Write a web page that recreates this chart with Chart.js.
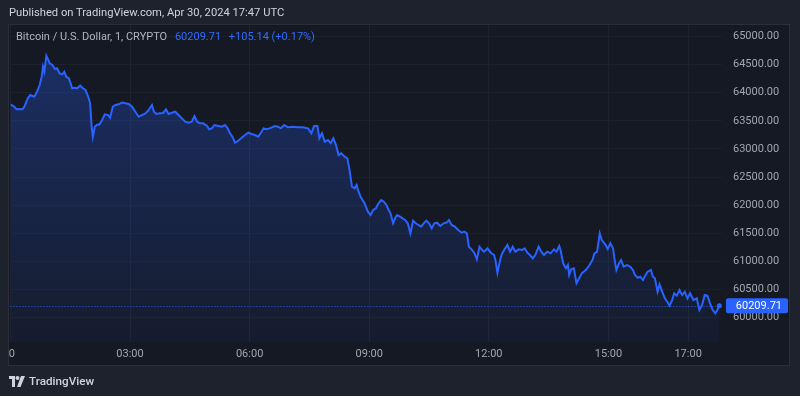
<!DOCTYPE html>
<html>
<head>
    <title>Bitcoin / U.S. Dollar</title>
    <style type="text/css">
        body { margin: 0; background: #1e222d; font-family: Roboto, "Noto Sans", sans-serif; }
        #wrap { position: relative; width: 800px; height: 396px; }
        .pub { position: absolute; left: 9px; top: 6px; color: #d1d4dc; font-size: 11.2px; white-space: nowrap; }
        .legend { position: absolute; left: 16px; top: 30px; color: #b2b5be; font-size: 11px; white-space: nowrap; }
        .legend .val { color: #2f6bff; margin-left: 5px; }
        .logo { position: absolute; left: 9px; top: 374px; color: #d1d4dc; font-size: 11.7px; font-weight: 500; white-space: nowrap; }
        .logo svg { vertical-align: -2px; margin-right: 4px; }
    </style>
    <script src="https://cdn.jsdelivr.net/npm/chart.js@4.4.1/dist/chart.umd.min.js"></script>
</head>
<body>
<div id="wrap">
    <canvas id="Chart" width="800" height="396"></canvas>
    <div class="pub">Published on TradingView.com, Apr 30, 2024 17:47 UTC</div>
    <div class="legend" id="legend"></div>
    <div class="logo">
        <svg width="16" height="11" viewBox="0 0 16 11"><path d="M0 0h6v11H3V3H0z" fill="#d1d4dc"/><circle cx="8.5" cy="2" r="2" fill="#d1d4dc"/><path d="M12 0h4l-4.5 11H8z" fill="#d1d4dc"/></svg>TradingView
    </div>
</div>
<script>
    // minutes since 00:00 UTC, Apr 30 2024
    var minutes = [
        0, 6, 9, 13, 18, 21, 26, 30, 36, 40,
        44, 47, 49, 51, 54, 57, 59, 63, 67, 70,
        74, 78, 81, 84, 88, 93, 97, 100, 105, 109,
        113, 117, 120, 122, 124, 127, 130, 134, 138, 142,
        147, 150, 154, 158, 163, 168, 173, 178, 183, 188,
        193, 198, 203, 208, 213, 216, 220, 225, 230, 234,
        238, 243, 248, 253, 258, 263, 268, 273, 277, 281,
        285, 290, 296, 299, 303, 307, 313, 318, 323, 327,
        330, 334, 338, 343, 348, 353, 358, 363, 368, 373,
        377, 381, 385, 390, 398, 403, 407, 412, 418, 425,
        433, 440, 448, 453, 457, 462, 465, 469, 473, 478,
        482, 486, 490, 494, 498, 503, 507, 510, 514, 518,
        521, 523, 527, 530, 533, 538, 542, 546, 550, 554,
        558, 562, 566, 568, 572, 576, 579, 582, 587, 590,
        594, 598, 602, 606, 610, 614, 618, 622, 626, 630,
        634, 638, 642, 647, 652, 657, 660, 664, 669, 674,
        679, 683, 687, 690, 694, 698, 702, 706, 710, 713,
        718, 723, 728, 730, 733, 736, 739, 743, 748, 752,
        756, 760, 765, 770, 774, 778, 782, 786, 790, 795,
        799, 803, 808, 813, 818, 822, 826, 828, 832, 836,
        839, 841, 844, 848, 852, 856, 860, 866, 870, 876,
        879, 883, 887, 890, 892, 896, 899, 903, 907, 909,
        912, 916, 919, 923, 928, 933, 937, 940, 944, 948,
        952, 956, 959, 964, 967, 970, 974, 977, 981, 985,
        989, 992, 996, 999, 1003, 1007, 1011, 1015, 1019, 1023,
        1028, 1033, 1037, 1041, 1045, 1049, 1053, 1057, 1061, 1064,
        1067
    ];
    var prices = [
        63794, 63751, 63705, 63710, 63705, 63751, 63900, 63959, 63929, 64018,
        64137, 64285, 64463, 64374, 64658, 64582, 64523, 64493, 64422, 64434,
        64345, 64327, 64374, 64285, 64256, 64078, 64089, 64078, 64125, 64078,
        64048, 63929, 63811, 63425, 63217, 63395, 63425, 63438, 63514, 63616,
        63603, 63555, 63751, 63781, 63794, 63826, 63811, 63799, 63751, 63662,
        63573, 63603, 63633, 63692, 63781, 63662, 63621, 63633, 63640, 63705,
        63621, 63644, 63662, 63603, 63544, 63484, 63466, 63484, 63585, 63484,
        63455, 63455, 63407, 63349, 63366, 63425, 63407, 63395, 63425, 63366,
        63288, 63217, 63110, 63146, 63198, 63247, 63288, 63265, 63247, 63217,
        63288, 63366, 63349, 63366, 63407, 63395, 63366, 63425, 63384, 63395,
        63384, 63384, 63366, 63278, 63407, 63407, 63189, 63278, 63128, 63158,
        63100, 63189, 63069, 62891, 62922, 62861, 62833, 62655, 62327, 62299,
        62358, 62269, 62149, 62091, 62032, 61882, 61824, 61913, 61943, 62032,
        62091, 62060, 62002, 61943, 61854, 61676, 61765, 61824, 61793, 61765,
        61735, 61676, 61498, 61722, 61676, 61646, 61616, 61676, 61722, 61676,
        61587, 61676, 61687, 61628, 61676, 61694, 61735, 61646, 61616, 61557,
        61509, 61527, 61498, 61260, 61213, 61153, 61036, 61260, 61201, 61171,
        61231, 61153, 61112, 61023, 60797, 60964, 61112, 61201, 61290, 61171,
        61260, 61171, 61213, 61201, 61231, 61153, 61112, 61053, 61112, 61260,
        61171, 61112, 61171, 61142, 61213, 61171, 61272, 61201, 60964, 60875,
        60934, 60756, 60858, 60875, 60608, 60697, 60786, 60845, 60904, 61023,
        61142, 61171, 61498, 61379, 61349, 61290, 61219, 61320, 61231, 61053,
        60845, 60964, 61023, 60904, 60934, 60904, 60845, 60756, 60708, 60726,
        60667, 60756, 60815, 60845, 60726, 60697, 60459, 60591, 60459, 60342,
        60270, 60210, 60311, 60431, 60388, 60489, 60400, 60459, 60342, 60431,
        60311, 60342, 60133, 60222, 60400, 60388, 60253, 60133, 60075, 60133,
        60209.71
    ];
    var timeTicks = [0, 180, 360, 540, 720, 900, 1020];
    var timeLabels = [' 0', '03:00', '06:00', '09:00', '12:00', '15:00', '17:00'];
    var priceTicks = [60000, 60500, 61000, 61500, 62000, 62500, 63000, 63500, 64000, 64500, 65000];
    var symbolName = 'Bitcoin / U.S. Dollar, 1, CRYPTO';
    var change = '+105.14 (+0.17%)';

    var lastPrice = prices[prices.length - 1];
    document.getElementById('legend').innerHTML = symbolName +
        ' <span class="val">' + lastPrice.toFixed(2) + '</span>' +
        ' <span class="val">' + change + '</span>';

    var points = minutes.map(function(m, i) { return { x: m, y: prices[i] }; });

    var paneBg = {
        id: 'paneBg',
        beforeDraw: function(chart) {
            var c = chart.ctx;
            c.save();
            c.fillStyle = '#1e222d';
            c.fillRect(0, 0, chart.width, chart.height);
            c.fillStyle = '#151924';
            c.fillRect(8, 24, 782, 342);
            c.strokeStyle = '#2a2e39';
            c.lineWidth = 1;
            c.strokeRect(8.5, 24.5, 781, 341);
            c.restore();
        },
        beforeDatasetsDraw: function(chart) {
            var c = chart.ctx, a = chart.chartArea;
            var y = Math.round(chart.scales.y.getPixelForValue(lastPrice)) + 0.5;
            c.save();
            c.strokeStyle = '#2962ff';
            c.lineWidth = 1;
            c.setLineDash([1, 2]);
            c.beginPath();
            c.moveTo(a.left, y);
            c.lineTo(a.right, y);
            c.stroke();
            c.restore();
        },
        afterDatasetsDraw: function(chart) {
            var c = chart.ctx, a = chart.chartArea;
            var y = chart.scales.y.getPixelForValue(lastPrice);
            c.save();
            c.fillStyle = '#2962ff';
            c.beginPath();
            c.roundRect(a.right + 4, y - 7.5, 62, 15, 2);
            c.fill();
            c.fillStyle = '#ffffff';
            c.font = '11px Roboto';
            c.textAlign = 'right';
            c.textBaseline = 'middle';
            c.fillText(lastPrice.toFixed(2), 782, y + 0.5);
            c.restore();
        }
    };

    var ctx = document.getElementById('Chart').getContext('2d');
    var chart = new Chart(ctx, {
        type: 'line',
        data: {
            datasets: [{
                data: points,
                borderColor: '#2962ff',
                borderWidth: 2,
                tension: 0,
                fill: 'start',
                backgroundColor: function(context) {
                    var area = context.chart.chartArea;
                    if (!area) return null;
                    var g = context.chart.ctx.createLinearGradient(0, area.top, 0, area.bottom);
                    g.addColorStop(0, 'rgba(41, 98, 255, 0.32)');
                    g.addColorStop(1, 'rgba(41, 98, 255, 0.04)');
                    return g;
                },
                pointRadius: function(context) { return context.dataIndex === prices.length - 1 ? 2.5 : 0; },
                pointBackgroundColor: '#2962ff',
                pointBorderWidth: 0
            }]
        },
        options: {
            responsive: false,
            animation: false,
            layout: { padding: { left: 8, top: 25, right: 10, bottom: 30 } },
            plugins: { legend: { display: false }, tooltip: { enabled: false } },
            scales: {
                x: {
                    type: 'linear',
                    min: 0,
                    max: 1071,
                    afterBuildTicks: function(scale) {
                        scale.ticks = timeTicks.map(function(v) { return { value: v }; });
                    },
                    afterFit: function(scale) { scale.height = 24; },
                    grid: { color: '#1f2330', drawTicks: false },
                    border: { display: false },
                    ticks: {
                        color: '#a3a6af',
                        font: { family: 'Roboto', size: 11 },
                        padding: 6,
                        maxRotation: 0,
                        autoSkip: false,
                        callback: function(v) { return timeLabels[timeTicks.indexOf(v)]; }
                    }
                },
                y: {
                    position: 'right',
                    min: 59564,
                    max: 65205,
                    afterBuildTicks: function(scale) {
                        scale.ticks = priceTicks.map(function(v) { return { value: v }; });
                    },
                    afterFit: function(scale) { scale.width = 68; },
                    grid: { color: '#1c202b', drawTicks: false },
                    border: { display: false },
                    ticks: {
                        color: '#a3a6af',
                        font: { family: 'Roboto', size: 11 },
                        padding: 11,
                        callback: function(v) { return v.toFixed(2); }
                    }
                }
            }
        },
        plugins: [paneBg]
    });
</script>
</body>
</html>
